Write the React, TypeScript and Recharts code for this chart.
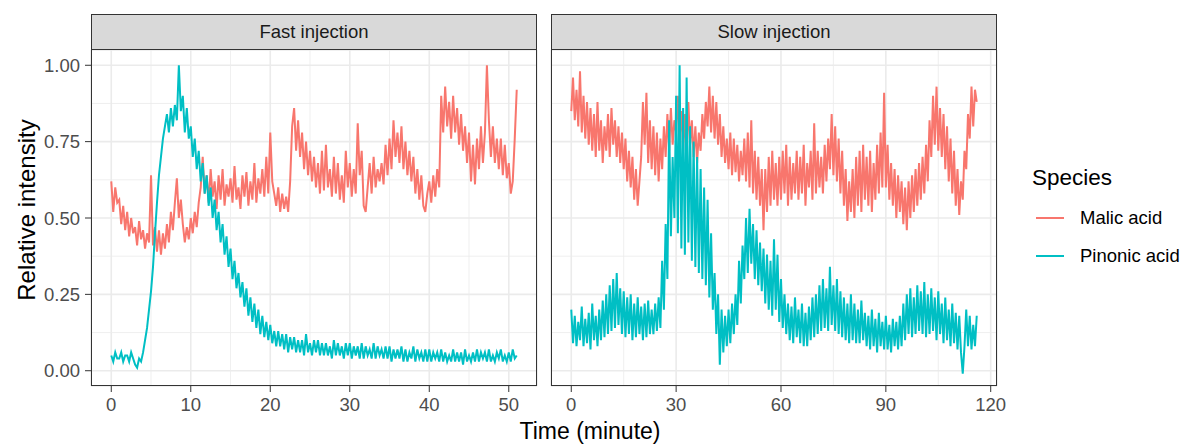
import { LineChart, Line, XAxis, YAxis, CartesianGrid, ReferenceLine } from "recharts";

const MALIC = "#F8766D";
const PINONIC = "#00BFC4";
const FONT = "'Liberation Sans', Arial, sans-serif";

// relative intensity values are stored x100, one row per minute (fast) / per 5 minutes (slow)
const FAST_STEP = 0.25;
const fastMalic = [
  62, 52, 60, 55, 56, 48, 54, 46, 52, 44, 50, 45, 47, 41, 49, 43, 46, 40, 45, 42,
  64, 41, 47, 39, 46, 38, 45, 40, 48, 42, 52, 46, 55, 63, 50, 56, 48, 42, 47, 43,
  50, 45, 52, 47, 55, 60, 70, 58, 64, 55, 66, 57, 62, 53, 64, 56, 66, 54, 61, 57,
  63, 55, 67, 56, 60, 53, 64, 57, 65, 54, 62, 56, 68, 55, 63, 58, 66, 57, 70, 58,
  78, 62, 58, 54, 60, 52, 58, 53, 57, 52, 62, 80, 86, 72, 82, 70, 78, 66, 75, 64,
  72, 62, 70, 60, 68, 58, 72, 59, 74, 60, 66, 57, 70, 58, 68, 56, 64, 55, 72, 60,
  68, 57, 66, 58, 81, 64, 72, 54, 52, 60, 68, 58, 70, 60, 66, 62, 68, 61, 74, 64,
  76, 66, 82, 70, 78, 68, 80, 66, 75, 64, 72, 62, 70, 58, 66, 56, 64, 54, 52, 58,
  62, 55, 64, 57, 66, 60, 90, 78, 93, 80, 88, 76, 90, 78, 86, 74, 84, 72, 80, 68,
  78, 62, 74, 61, 76, 66, 80, 68, 78, 100, 82, 70, 80, 68, 76, 66, 76, 64, 74, 63,
  68, 58, 62, 76, 92,
];
const fastPinonic = [
  5, 3, 6, 4, 4, 6, 3, 5, 5, 3, 6, 4, 2, 1, 4, 3, 6, 10, 14, 20,
  26, 34, 45, 55, 64, 70, 76, 80, 84, 78, 86, 80, 87, 82, 100, 85, 90, 78, 86, 76,
  80, 70, 76, 66, 72, 62, 68, 58, 64, 54, 60, 50, 56, 46, 52, 42, 48, 38, 44, 34,
  40, 30, 36, 27, 32, 24, 29, 21, 27, 18, 24, 16, 22, 14, 20, 12, 18, 11, 16, 10,
  15, 9, 13, 8, 13, 8, 12, 7, 12, 6, 11, 7, 11, 6, 10, 6, 10, 5, 12, 6,
  9, 5, 10, 6, 10, 5, 9, 5, 9, 5, 8, 4, 10, 5, 9, 5, 8, 4, 9, 5,
  9, 4, 8, 5, 8, 4, 9, 4, 8, 5, 7, 4, 9, 4, 8, 5, 7, 4, 8, 4,
  8, 3, 7, 4, 7, 4, 8, 3, 7, 3, 6, 4, 8, 3, 7, 4, 6, 3, 7, 3,
  7, 3, 6, 4, 6, 3, 7, 3, 6, 3, 5, 3, 7, 3, 6, 3, 6, 2, 7, 3,
  5, 3, 6, 3, 7, 3, 6, 4, 6, 3, 7, 3, 5, 3, 6, 4, 7, 3, 5, 3,
  6, 3, 7, 4, 5,
];

const SLOW_STEP = 0.5;
const slowMalic = [
  85, 96, 82, 92, 80, 98, 78, 90, 76, 88,
  74, 86, 72, 84, 70, 88, 72, 82, 68, 80,
  72, 84, 70, 86, 74, 82, 70, 80, 68, 78,
  66, 76, 62, 72, 60, 70, 56, 66, 54, 62,
  70, 88, 74, 91, 68, 82, 66, 80, 64, 78,
  62, 76, 66, 80, 70, 84, 72, 86, 74, 82,
  78, 90, 76, 85, 72, 84, 70, 88, 74, 82,
  70, 80, 68, 78, 72, 84, 76, 88, 80, 93,
  78, 90, 76, 88, 74, 84, 70, 80, 68, 76,
  66, 78, 64, 76, 65, 74, 62, 72, 64, 76,
  62, 78, 60, 82, 58, 72, 56, 70, 54, 66,
  46, 66, 52, 70, 54, 72, 56, 68, 54, 70,
  56, 72, 58, 74, 54, 70, 56, 68, 58, 72,
  56, 70, 58, 74, 54, 68, 60, 72, 56, 81,
  58, 72, 60, 70, 58, 74, 62, 76, 66, 84,
  64, 80, 62, 76, 58, 72, 54, 66, 49, 62,
  52, 66, 50, 70, 54, 72, 52, 74, 56, 70,
  54, 72, 52, 68, 56, 74, 58, 78, 60, 91,
  60, 74, 56, 68, 54, 66, 50, 64, 52, 62,
  48, 60, 46, 62, 50, 64, 52, 66, 54, 68,
  56, 70, 58, 74, 62, 82, 70, 90, 74, 93,
  72, 86, 70, 84, 66, 80, 62, 76, 58, 72,
  54, 66, 51, 62, 56, 72, 66, 84, 76, 93,
  80, 92, 88,
];
const slowPinonic = [
  20, 9, 18, 8, 16, 10, 21, 8, 17, 9,
  19, 7, 22, 10, 18, 8, 20, 10, 23, 11,
  25, 12, 28, 13, 30, 14, 32, 15, 27, 12,
  26, 11, 24, 12, 25, 10, 22, 11, 24, 12,
  21, 10, 22, 11, 23, 12, 20, 12, 22, 13,
  24, 14, 36, 20, 48, 30, 82, 44, 70, 50,
  90, 45, 100, 40, 86, 38, 96, 42, 80, 36,
  75, 34, 70, 32, 66, 30, 60, 28, 56, 24,
  45, 20, 32, 12, 25, 2, 20, 6, 18, 8,
  20, 9, 22, 12, 25, 15, 36, 22, 41, 30,
  50, 32, 53, 35, 48, 30, 46, 28, 42, 26,
  40, 22, 38, 20, 36, 18, 43, 20, 38, 16,
  30, 14, 25, 12, 22, 10, 21, 9, 24, 11,
  20, 9, 22, 8, 19, 8, 21, 10, 24, 11,
  25, 12, 28, 13, 30, 14, 27, 13, 34, 15,
  28, 13, 30, 12, 26, 11, 24, 10, 22, 9,
  25, 10, 22, 9, 20, 9, 23, 10, 19, 8,
  18, 7, 20, 8, 17, 6, 19, 8, 16, 7,
  18, 7, 15, 6, 17, 8, 16, 7, 18, 8,
  22, 10, 25, 12, 27, 11, 24, 12, 28, 13,
  26, 12, 29, 11, 25, 12, 27, 13, 24, 10,
  26, 12, 22, 9, 24, 10, 20, 8, 22, 9,
  19, 7, 18, 6, -1, 8, 20, 8, 18, 7,
  15, 8, 18,
];

const yTicks = [0, 0.25, 0.5, 0.75, 1];
const yMinor = [0.125, 0.375, 0.625, 0.875];
const fastTicks = [0, 10, 20, 30, 40, 50];
const fastMinor = [5, 15, 25, 35, 45];
const slowTicks = [0, 30, 60, 90, 120];
const slowMinor = [15, 45, 75, 105];

const buildRows = (step: number, malic: number[], pinonic: number[]) =>
  malic.map((m, i) => ({ time: i * step, malic: m / 100, pinonic: pinonic[i] / 100 }));

const fastData = buildRows(FAST_STEP, fastMalic, fastPinonic);
const slowData = buildRows(SLOW_STEP, slowMalic, slowPinonic);

const tickStyle = { fontSize: 18.5, fill: "#4d4d4d", fontFamily: FONT };

interface PanelProps {
  data: { time: number; malic: number; pinonic: number }[];
  xDomain: [number, number];
  ticks: number[];
  minor: number[];
  showY: boolean;
  width: number;
  marginLeft: number;
  marginRight: number;
}

const Panel = ({ data, xDomain, ticks, minor, showY, width, marginLeft, marginRight }: PanelProps) => (
  <LineChart
    width={width}
    height={445}
    data={data}
    margin={{ top: 50, right: marginRight, bottom: 29, left: marginLeft }}
  >
    <CartesianGrid stroke="#ebebeb" strokeWidth={1.6} />
    {minor.map((x) => (
      <ReferenceLine key={"x" + x} x={x} stroke="#ebebeb" strokeWidth={0.8} />
    ))}
    {yMinor.map((y) => (
      <ReferenceLine key={"y" + y} y={y} stroke="#ebebeb" strokeWidth={0.8} />
    ))}
    <XAxis
      dataKey="time"
      type="number"
      domain={xDomain}
      ticks={ticks}
      allowDataOverflow
      axisLine={false}
      tickSize={6}
      tickMargin={6}
      tickLine={{ stroke: "#333333" }}
      tick={tickStyle}
      height={30}
      interval={0}
    />
    <YAxis
      type="number"
      domain={[-0.05, 1.05]}
      ticks={yTicks}
      allowDataOverflow
      hide={!showY}
      width={50}
      axisLine={false}
      tickSize={6}
      tickMargin={5}
      tickLine={{ stroke: "#333333" }}
      tick={tickStyle}
      tickFormatter={(v: number) => v.toFixed(2)}
    />
    <Line dataKey="malic" stroke={MALIC} strokeWidth={2} dot={false} isAnimationActive={false} />
    <Line dataKey="pinonic" stroke={PINONIC} strokeWidth={2} dot={false} isAnimationActive={false} />
  </LineChart>
);

const Strip = ({ left, label }: { left: number; label: string }) => (
  <>
    <div
      style={{
        position: "absolute", left, top: 14, width: 446, height: 36, boxSizing: "border-box",
        background: "#d9d9d9", border: "1px solid #333333", display: "flex",
        alignItems: "center", justifyContent: "center", fontSize: 18.5, color: "#1a1a1a",
      }}
    >
      {label}
    </div>
    <div
      style={{
        position: "absolute", left, top: 49, width: 446, height: 337, boxSizing: "border-box",
        border: "1px solid #333333", pointerEvents: "none",
      }}
    />
  </>
);

export default function App() {
  return (
    <div style={{ position: "absolute", left: 0, top: 0, width: 1185, height: 445, background: "#fff", fontFamily: FONT, overflow: "hidden" }}>
      <div style={{ position: "absolute", left: 0, top: 0 }}>
        <Panel data={fastData} xDomain={[-2.55, 53.55]} ticks={fastTicks} minor={fastMinor}
          showY width={545} marginLeft={41} marginRight={8} />
      </div>
      <div style={{ position: "absolute", left: 540, top: 0 }}>
        <Panel data={slowData} xDomain={[-5.8, 121.8]} ticks={slowTicks} minor={slowMinor}
          showY={false} width={470} marginLeft={11} marginRight={13} />
      </div>
      <Strip left={91} label="Fast injection" />
      <Strip left={551} label="Slow injection" />
      <div
        style={{
          position: "absolute", left: 27, top: 210, transform: "translate(-50%, -50%) rotate(-90deg)",
          fontSize: 24, whiteSpace: "nowrap", color: "#000",
        }}
      >
        Relative intensity
      </div>
      <div style={{ position: "absolute", left: 590, top: 431, transform: "translate(-50%, -50%)", fontSize: 23, whiteSpace: "nowrap" }}>
        Time (minute)
      </div>
      <div style={{ position: "absolute", left: 1032, top: 178, transform: "translateY(-50%)", fontSize: 22.5 }}>Species</div>
      {[{ name: "Malic acid", color: MALIC, top: 218 }, { name: "Pinonic acid", color: PINONIC, top: 256 }].map((s) => (
        <div key={s.name} style={{ position: "absolute", left: 1036, top: s.top - 12, height: 24, display: "flex", alignItems: "center", fontSize: 18.5, whiteSpace: "nowrap" }}>
          <span style={{ display: "inline-block", width: 28, height: 2, background: s.color, marginRight: 16 }} />
          {s.name}
        </div>
      ))}
    </div>
  );
}
